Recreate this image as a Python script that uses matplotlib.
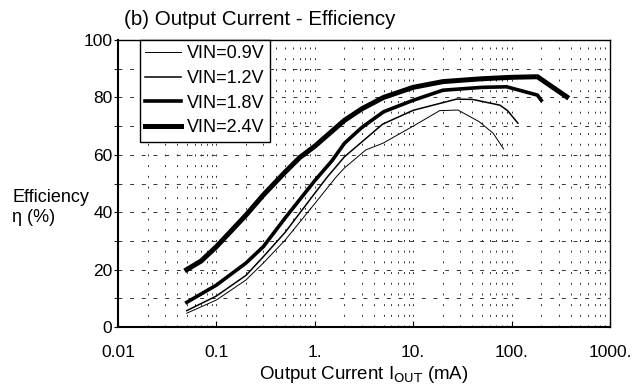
import matplotlib
matplotlib.use('Agg')
import matplotlib.pyplot as plt
from matplotlib.ticker import FixedLocator, LogLocator, NullFormatter

plt.rcParams['font.family'] = ['Liberation Sans', 'DejaVu Sans']

# Efficiency curves
i_09 = [0.05, 0.1, 0.2, 0.3, 0.5, 1.0, 1.66, 2.0, 3.3, 4.9, 10, 18.6, 28.5, 47, 65, 83]
e_09 = [4.8, 9.4, 16.4, 22.3, 30.3, 43.0, 52.4, 55.4, 61.7, 64.0, 70.0, 75.4, 75.6, 71.5, 67.5, 62.0]

i_12 = [0.05, 0.1, 0.2, 0.3, 0.5, 1.0, 1.32, 2.0, 4.9, 10, 27.5, 40, 76, 91, 116]
e_12 = [5.7, 10.8, 18.0, 24.5, 33.0, 46.6, 52.0, 59.3, 70.7, 75.5, 79.4, 79.3, 77.3, 75.4, 71.0]

i_18 = [0.05, 0.1, 0.2, 0.3, 0.5, 1.0, 1.5, 2.0, 3.0, 5.0, 10, 20, 50, 89, 183, 200]
e_18 = [8.6, 14.6, 22.3, 28.0, 38.0, 51.0, 58.0, 64.0, 69.5, 75.0, 79.0, 82.5, 83.5, 83.7, 80.8, 79.0]

i_24 = [0.05, 0.07, 0.1, 0.2, 0.3, 0.5, 0.7, 1.0, 2.0, 3.0, 5.0, 10, 20, 50, 100, 183, 363]
e_24 = [20.0, 23.0, 28.0, 39.0, 46.0, 54.0, 59.0, 63.0, 72.0, 76.0, 80.0, 83.5, 85.5, 86.5, 87.0, 87.2, 80.2]

x_ticks = [0.01, 0.1, 1, 10, 100, 1000]
x_labels = ['0.01', '0.1', '1.', '10.', '100.', '1000.']
y_ticks = [0, 20, 40, 60, 80, 100]

W, H = 643, 387
fig = plt.figure(figsize=(W / 100, H / 100), dpi=100)
ax = fig.add_axes([118 / W, 60 / H, 492 / W, 287 / H])

ax.plot(i_09, e_09, color='black', lw=0.7, label='VIN=0.9V')
ax.plot(i_12, e_12, color='black', lw=1.1, label='VIN=1.2V')
ax.plot(i_18, e_18, color='black', lw=2.6, label='VIN=1.8V')
ax.plot(i_24, e_24, color='black', lw=3.6, label='VIN=2.4V')

ax.set_xscale('log')
ax.set_xlim(0.01, 1000)
ax.set_ylim(0, 100)
ax.set_xticks(x_ticks)
ax.set_xticklabels(x_labels)
ax.xaxis.set_minor_locator(LogLocator(base=10, subs=range(2, 10), numticks=20))
ax.xaxis.set_minor_formatter(NullFormatter())
ax.set_yticks(y_ticks)
ax.yaxis.set_minor_locator(FixedLocator(range(10, 100, 20)))

ax.grid(which='major', axis='y', color='#333333', lw=0.7, linestyle=(0, (4, 8)))
ax.grid(which='minor', axis='y', color='#333333', lw=0.7, linestyle=(0, (4, 8)))
ax.grid(which='both', axis='x', color='#333333', lw=0.7, linestyle=(0, (2, 9)))

ax.tick_params(axis='x', which='major', direction='in', length=4, labelsize=12.5, pad=13)
ax.tick_params(axis='x', which='minor', length=0)
ax.tick_params(axis='y', which='both', direction='out', length=3, labelsize=12.5, pad=1)
for s in ax.spines.values():
    s.set_linewidth(1.0)
ax.spines['left'].set_linewidth(1.5)
ax.spines['bottom'].set_linewidth(1.5)

ax.set_xlabel('Output Current I$_{\\mathrm{OUT}}$ (mA)', fontsize=13.5)
ax.xaxis.set_label_coords(0.5, -0.13)
fig.text(12 / W, 1 - 189 / H, 'Efficiency\nη (%)', fontsize=13, ha='left', va='top',
         linespacing=1.2)
fig.text(124 / W, 1 - 25 / H, '(b) Output Current - Efficiency', fontsize=14.8,
         ha='left', va='baseline')

leg = ax.legend(loc='upper left', bbox_to_anchor=(22 / 492, 1.0), fontsize=13,
                frameon=True, fancybox=False, edgecolor='black', framealpha=1,
                handlelength=1.95, handletextpad=0.33, borderpad=0.3, labelspacing=0.42,
                borderaxespad=0)
leg.get_frame().set_linewidth(1.0)

fig.savefig('out.png', dpi=100)
